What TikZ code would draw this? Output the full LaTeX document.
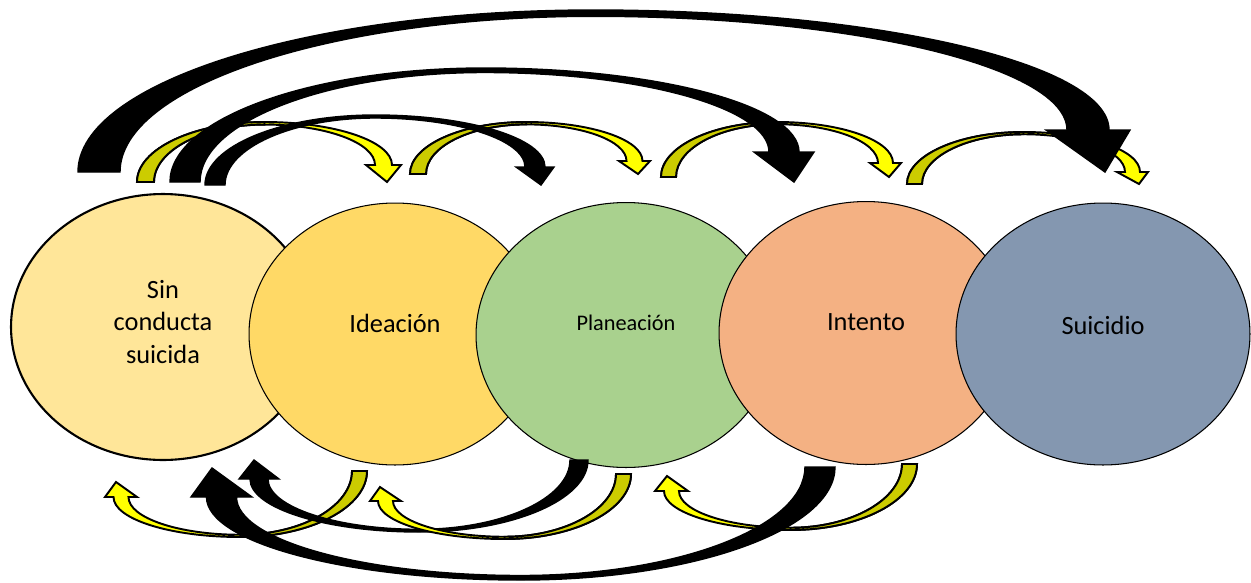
\documentclass[tikz,border=0pt]{standalone}
\usepackage{fontspec}
\setmainfont{Carlito}
\usetikzlibrary{shapes.geometric,calc}

\definecolor{sinc}{HTML}{FFE699}
\definecolor{idea}{HTML}{FFD966}
\definecolor{plan}{HTML}{A9D18E}
\definecolor{inte}{HTML}{F4B183}
\definecolor{suic}{HTML}{8497B0}
\definecolor{amar}{HTML}{FFFF00}
\definecolor{oliv}{HTML}{CCCC00}

\tikzset{
  etapa/.style={ellipse, draw=black, line width=0.6pt, inner sep=0pt},
  etiqueta/.style={font=\fontsize{15}{18.7}\selectfont, align=center},
  bow black/.style={fill=black, draw=black, line width=0.8pt, line join=miter},
  bow yellow/.style={fill=amar, draw=black, line width=1.1pt, line join=miter},
  bow olive/.style={fill=oliv, draw=black, line width=1.1pt, line join=miter}
}

% curved arrow: #1 outer base x, #2 inner base x, #3 base y, #4 top y,
% #5 #6 head shoulders x, #7 shoulders y, #8 tip
\newcommand{\bowcalc}[8]{%
  \pgfmathsetmacro\bowW{#2-#1}%
  \pgfmathsetmacro\bowNa{(#5+#6)/2-\bowW/2}%
  \pgfmathsetmacro\bowNb{\bowNa+\bowW}%
  \pgfmathsetmacro\bowMo{(#1+\bowNb)/2}%
  \pgfmathsetmacro\bowMi{(#2+\bowNa)/2}%
  \pgfmathsetmacro\bowYi{#4+0.15*\bowW}%
  \pgfmathsetmacro\bowCa{#3-0.552*(#3-#4)}%
  \pgfmathsetmacro\bowCb{\bowMo-0.552*(\bowMo-#1)}%
  \pgfmathsetmacro\bowCc{\bowMo+0.552*(\bowNb-\bowMo)}%
  \pgfmathsetmacro\bowCd{#7-0.552*(#7-#4)}%
  \pgfmathsetmacro\bowCe{#7-0.552*(#7-\bowYi)}%
  \pgfmathsetmacro\bowCf{\bowMi+0.552*(\bowNa-\bowMi)}%
  \pgfmathsetmacro\bowCg{\bowMi-0.552*(\bowMi-#2)}%
  \pgfmathsetmacro\bowCh{#3-0.552*(#3-\bowYi)}%
}
\newcommand{\blackbow}[8]{%
  \bowcalc{#1}{#2}{#3}{#4}{#5}{#6}{#7}{#8}%
  \filldraw[bow black] (#1,#3) .. controls (#1,\bowCa) and (\bowCb,#4) .. (\bowMo,#4)
    .. controls (\bowCc,#4) and (\bowNb,\bowCd) .. (\bowNb,#7) -- (#6,#7) -- #8 -- (#5,#7)
    -- (\bowNa,#7) .. controls (\bowNa,\bowCe) and (\bowCf,\bowYi) .. (\bowMi,\bowYi)
    .. controls (\bowCg,\bowYi) and (#2,\bowCh) .. (#2,#3) -- cycle;
}
\newcommand{\yellowbow}[8]{%
  \bowcalc{#1}{#2}{#3}{#4}{#5}{#6}{#7}{#8}%
  \filldraw[bow yellow] (#1,#3) .. controls (#1,\bowCa) and (\bowCb,#4) .. (\bowMo,#4)
    .. controls (\bowCc,#4) and (\bowNb,\bowCd) .. (\bowNb,#7) -- (#6,#7) -- #8 -- (#5,#7)
    -- (\bowNa,#7) .. controls (\bowNa,\bowCe) and (\bowCf,\bowYi) .. (\bowMi,\bowYi)
    .. controls (\bowCg,\bowYi) and (#2,\bowCh) .. (#2,#3) -- cycle;
  \filldraw[bow olive] (#1,#3) .. controls (#1,\bowCa) and (\bowCb,#4) .. (\bowMo,#4)
    -- (\bowMi,\bowYi) .. controls (\bowCg,\bowYi) and (#2,\bowCh) .. (#2,#3) -- cycle;
}

\begin{document}
\begin{tikzpicture}[x=0.02cm, y=-0.02cm]
\useasboundingbox (0,0) rectangle (1251,582);

% etapas
\node[etapa, fill=sinc, line width=1.2pt, minimum width=6.08cm, minimum height=5.32cm] (sin) at (163,327) {};
\node[etapa, fill=idea, minimum width=5.84cm, minimum height=5.24cm] (ide) at (395,334) {};
\node[etapa, fill=plan, minimum width=6.00cm, minimum height=5.30cm] (pla) at (626,335) {};
\node[etapa, fill=inte, minimum width=5.88cm, minimum height=5.26cm] (int) at (866,333) {};
\node[etapa, fill=suic, minimum width=5.88cm, minimum height=5.24cm] (sui) at (1103,334) {};

\node[etiqueta] (tsin) at ($(sin.center)+(0,-5)$) {Sin\\conducta\\suicida};
\node[etiqueta] (tide) at ($(ide.center)+(0,-11)$) {Ideación};
\node[etiqueta, font=\fontsize{12.7}{15}\selectfont] (tpla) at ($(pla.center)+(0,-12)$) {Planeación};
\node[etiqueta] (tint) at ($(int.center)+(0,-11)$) {Intento};
\node[etiqueta] (tsui) at ($(sui.center)+(0,-9)$) {Suicidio};

% flechas de arriba
\yellowbow{137}{154}{182}{122}{366}{401}{165}{(387,182)}
\yellowbow{410}{426}{174}{122}{619}{650}{161}{(638,174)}
\yellowbow{661}{676}{177}{122}{870}{901}{163}{(889,177)}
\yellowbow{907}{922}{184}{132}{1117}{1148}{172}{(1139,184)}
\blackbow{205}{225}{185}{115}{516}{554}{167}{(541,185)}
\blackbow{170}{200}{182}{68}{754}{814}{152}{(794,182)}
\blackbow{78}{120}{172}{10}{1046}{1130}{130}{(1105,172)}

% flechas de abajo (giradas)
\begin{scope}[scale=-1]
\yellowbow{-367}{-352}{-471}{-537}{-137}{-105}{-497}{(-116,-482)}
\yellowbow{-917}{-902}{-464}{-530}{-688}{-655}{-491}{(-667,-476)}
\blackbow{-835}{-805}{-467}{-580}{-252}{-191}{-497}{(-212,-468)}
\blackbow{-588}{-570}{-460}{-532}{-279}{-239}{-479}{(-254,-460)}
\yellowbow{-631}{-616}{-474}{-539}{-401}{-370}{-501}{(-380,-487)}
\end{scope}
\end{tikzpicture}
\end{document}
